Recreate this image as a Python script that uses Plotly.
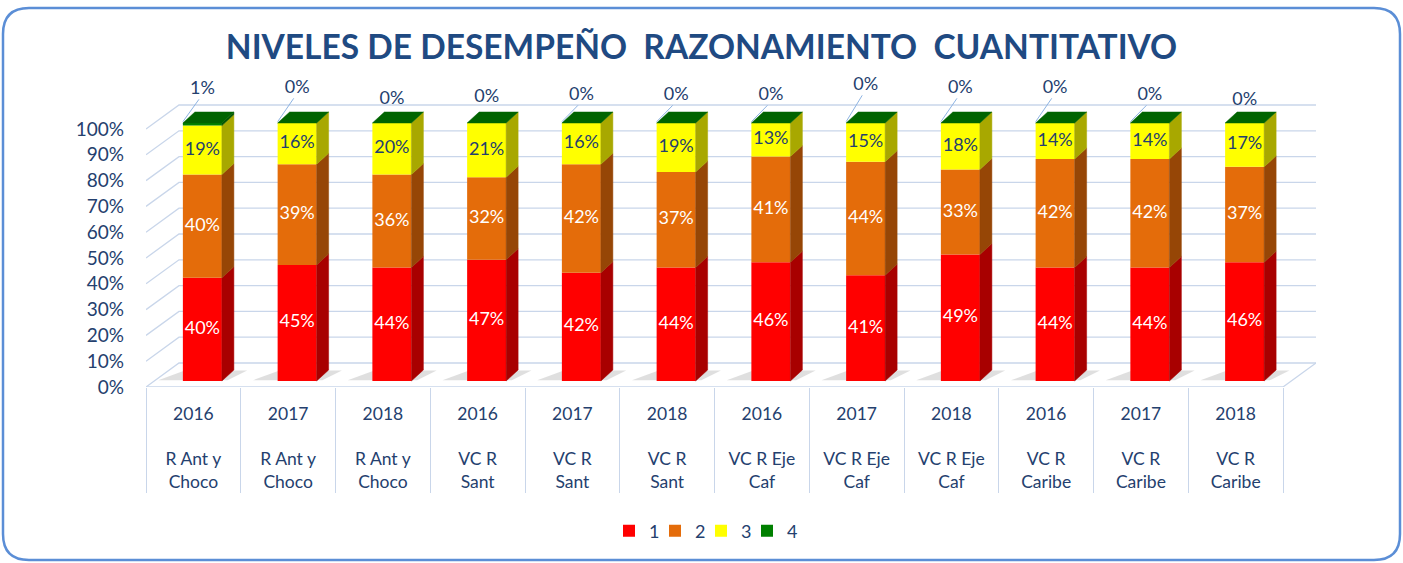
import plotly.graph_objects as go

# ---------------- data ----------------
years = ["2016", "2017", "2018"] * 4
regions = (["R Ant y<br>Choco"] * 3 + ["VC R<br>Sant"] * 3 +
           ["VC R Eje<br>Caf"] * 3 + ["VC R<br>Caribe"] * 3)
level_names = ["1", "2", "3", "4"]
level1 = [40, 45, 44, 47, 42, 44, 46, 41, 49, 44, 44, 46]
level2 = [40, 39, 36, 32, 42, 37, 41, 44, 33, 42, 42, 37]
level3 = [19, 16, 20, 21, 16, 19, 13, 15, 18, 14, 14, 17]
level4 = [1, 0, 0, 0, 0, 0, 0, 0, 0, 0, 0, 0]
y_ticks = list(range(0, 101, 10))

# ---------------- style ----------------
FONT = "Lato"
TXT = "#24406E"
GRID = "#C9D6EA"
front_colors = ["#FF0000", "#E46C0A", "#FFFF00", "#008000"]
side_colors = ["#A80000", "#964606", "#A8A800", "#005500"]
top_color = "#006400"
text_colors = ["white", "white", "#24406E", "#24406E"]
# label lift (px) of the level-4 labels above the bar tops, and leader flags
label_lift_px = [34, 35, 24, 26, 28, 28, 28, 38, 35, 35, 28, 23]
leader = [1, 1, 0, 0, 1, 1, 1, 1, 1, 1, 1, 0]

PX_X = 94.75   # px per category
PX_Y = 2.58    # px per percent
bar_shift = 9 / PX_X
bar_w = 39 / PX_X
ddx = 12 / PX_X
ddy = 11 / PX_Y
front_dy = -6 / PX_Y
wall_dx = 33 / PX_X
wall_dy = 24 / PX_Y

L, T_, W, H = 146, 70, 1170, 317
n = len(level1)
xs = list(range(n))
series = [level1, level2, level3, level4]

bases = []
cum = [0] * n
for s in series:
    bases.append(cum[:])
    cum = [c + v for c, v in zip(cum, s)]
totals = cum

fig = go.Figure()

# floor shadows under the bars (drawn below traces)
for i in xs:
    xl = i + bar_shift - bar_w / 2
    xr = i + bar_shift + bar_w / 2
    fig.add_shape(
        type="path",
        path=(f"M {xl - 0.26},{0.3} L {xr + 0.06},{0.3} "
              f"L {xr + ddx + 0.14},{ddy * 0.95} L {xl + 0.02},{ddy * 0.95} Z"),
        xref="x", yref="y", fillcolor="rgba(110,110,110,0.22)",
        line=dict(width=0), layer="below")

# front faces
for k, s in enumerate(series):
    fig.add_trace(go.Bar(
        x=[i + bar_shift for i in xs], y=s, base=bases[k], width=bar_w,
        marker=dict(color=front_colors[k], line=dict(width=0)),
        name=level_names[k], hoverinfo="skip"))
# invisible spacer entry so the last legend label is not clipped
fig.add_trace(go.Bar(x=[None], y=[None], name=" ", opacity=0,
                     marker=dict(color="rgba(0,0,0,0)",
                                 line=dict(width=0, color="rgba(0,0,0,0)")),
                     hoverinfo="skip"))

# side faces
for k, s in enumerate(series):
    sx, sy = [], []
    for i in xs:
        if s[i] <= 0:
            continue
        b = bases[k][i]
        t = b + s[i]
        xr = i + bar_shift + bar_w / 2
        sx += [xr, xr + ddx, xr + ddx, xr, xr, None]
        sy += [b, b + ddy, t + ddy, t, b, None]
    fig.add_trace(go.Scatter(
        x=sx, y=sy, mode="lines", fill="toself", fillcolor=side_colors[k],
        line=dict(width=0.5, color=side_colors[k]), showlegend=False,
        hoverinfo="skip"))

# top faces
tx, ty = [], []
for i in xs:
    xl = i + bar_shift - bar_w / 2
    xr = i + bar_shift + bar_w / 2
    t = totals[i]
    tx += [xl, xr, xr + ddx, xl + ddx, xl, None]
    ty += [t, t, t + ddy, t + ddy, t, None]
fig.add_trace(go.Scatter(
    x=tx, y=ty, mode="lines", fill="toself", fillcolor=top_color,
    line=dict(width=0.5, color=top_color), showlegend=False, hoverinfo="skip"))

# segment labels
for k in range(3):
    s = series[k]
    fig.add_trace(go.Scatter(
        x=[i + bar_shift for i in xs],
        y=[bases[k][i] + s[i] / 2 for i in xs],
        mode="text", text=[f"{v}%" for v in s],
        textfont=dict(family=FONT, size=18, color=text_colors[k]),
        showlegend=False, hoverinfo="skip"))

# level-4 labels with leader lines
lab_y = [totals[i] + label_lift_px[i] / PX_Y for i in xs]
lx, ly = [], []
for i in xs:
    if leader[i]:
        xl = i + bar_shift - bar_w / 2
        lx += [xl, xl + 0.17, None]
        ly += [totals[i] + 0.5, lab_y[i] - 4, None]
fig.add_trace(go.Scatter(x=lx, y=ly, mode="lines",
                         line=dict(color="#8EB4E3", width=1),
                         showlegend=False, hoverinfo="skip"))
fig.add_trace(go.Scatter(
    x=[i + bar_shift for i in xs], y=lab_y, mode="text",
    text=[f"{v}%" for v in level4],
    textfont=dict(family=FONT, size=18, color=TXT),
    showlegend=False, hoverinfo="skip"))

# gridlines (back wall + left wall)
x_left = -0.5
x_right = n - 0.5 + wall_dx
for v in y_ticks:
    yf = v + front_dy
    yb = yf + wall_dy
    fig.add_shape(type="path",
                  path=f"M {x_left},{yf} L {x_left + wall_dx},{yb} L {x_right},{yb}",
                  xref="x", yref="y", line=dict(color=GRID, width=1.3),
                  layer="below")
# floor front edge and right edge
fig.add_shape(type="path",
              path=f"M {x_left},{front_dy} L {n - 0.5},{front_dy} "
                   f"L {n - 0.5 + wall_dx},{front_dy + wall_dy}",
              xref="x", yref="y", line=dict(color=GRID, width=1.3), layer="below")


# outer rounded border
def px2x(p):
    return (p - L) / W


def py2y(p):
    return (T_ + H - p) / H


x0, x1 = px2x(3), px2x(1400)
y0, y1 = py2y(560), py2y(8)
rx, ry = 26 / W, 26 / H
path = (f"M {x0 + rx},{y1} L {x1 - rx},{y1} Q {x1},{y1} {x1},{y1 - ry} "
        f"L {x1},{y0 + ry} Q {x1},{y0} {x1 - rx},{y0} L {x0 + rx},{y0} "
        f"Q {x0},{y0} {x0},{y0 + ry} L {x0},{y1 - ry} Q {x0},{y1} {x0 + rx},{y1} Z")
fig.add_shape(type="path", path=path, xref="paper", yref="paper",
              line=dict(color="#5B8ED6", width=2.5), layer="below")

fig.update_layout(
    width=1403, height=563,
    margin=dict(l=L, r=1403 - L - W, t=T_, b=563 - T_ - H),
    paper_bgcolor="white", plot_bgcolor="white",
    barmode="overlay",
    title=dict(text="<b>NIVELES DE DESEMPEÑO  RAZONAMIENTO  CUANTITATIVO</b>",
               x=0.5, xref="container", xanchor="center",
               y=1 - 47 / 563, yref="container", yanchor="middle",
               font=dict(family=FONT, size=33.5, color="#1F4A82")),
    font=dict(family=FONT, color=TXT),
    legend=dict(orientation="h", x=px2x(724), xanchor="center",
                y=py2y(531), yanchor="middle",
                font=dict(family=FONT, size=18, color=TXT),
                entrywidth=1, entrywidthmode="pixels",
                itemwidth=30, traceorder="normal"),
    showlegend=True,
)
fig.update_xaxes(
    range=[-0.5, n - 0.5 + wall_dx], showgrid=False, zeroline=False,
    showline=False, tickmode="array", tickvals=xs,
    ticktext=[f"{y}<br> <br>{r}" for y, r in zip(years, regions)],
    ticks="", ticklabelstandoff=14,
    tickfont=dict(family=FONT, size=17.5, color=TXT),
    minor=dict(tickmode="array", tickvals=[i - 0.5 for i in range(n + 1)],
               ticks="outside", ticklen=105, tickcolor=GRID, tickwidth=1.3,
               showgrid=False),
)
fig.update_yaxes(
    range=[front_dy, front_dy + H / PX_Y], showgrid=False, zeroline=False,
    showline=False, tickmode="array",
    tickvals=[v + front_dy for v in y_ticks],
    ticktext=[f"{v}%" for v in y_ticks],
    ticks="", ticklabelstandoff=21,
    tickfont=dict(family=FONT, size=19, color=TXT),
)

fig.write_html("out.html",
               config={"displayModeBar": False},
               post_script="document.body.style.margin='0';"
                           "document.body.style.overflow='hidden';")
